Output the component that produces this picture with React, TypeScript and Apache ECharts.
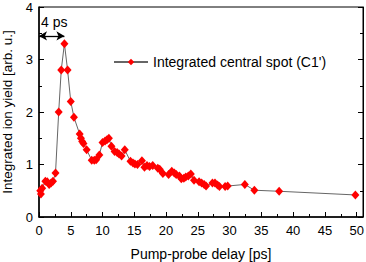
import React, { useEffect, useRef } from "react";
import * as echarts from "echarts";

const delays: number[] = [
  0.2, 0.3, 0.5, 1.0, 1.3, 1.6, 1.9, 2.2, 2.6, 3.1, 3.5, 4.0, 4.5, 5.0, 5.5,
  6.4, 6.6, 6.8, 7.0, 7.5, 8.3, 8.7, 9.0, 9.5, 10.0, 10.4, 10.7, 11.0, 11.4,
  11.9, 12.3, 12.6, 13.0, 13.5, 14.4, 14.8, 15.1, 15.5, 16.2, 16.6, 17.0,
  17.4, 17.9, 18.7, 19.0, 19.5, 20.4, 20.9, 21.3, 21.6, 22.1, 22.4, 22.8,
  23.1, 23.5, 23.9, 24.4, 25.2, 25.6, 26.0, 26.3, 27.3, 27.7, 28.1, 28.4,
  29.3, 29.7, 32.4, 33.9, 37.8, 49.8,
];
const yields: number[] = [
  0.5, 0.44, 0.55, 0.68, 0.67, 0.62, 0.65, 0.68, 0.84, 2.0, 2.8, 3.3, 2.8,
  2.2, 1.9, 1.58, 1.5, 1.44, 1.4, 1.28, 1.08, 1.08, 1.09, 1.18, 1.42, 1.45,
  1.47, 1.5, 1.35, 1.25, 1.23, 1.2, 1.16, 1.28, 1.06, 1.03, 1.01, 1.0, 1.07,
  0.95, 0.98, 0.96, 0.98, 0.93, 0.91, 0.83, 0.81, 0.87, 0.84, 0.81, 0.78,
  0.73, 0.74, 0.76, 0.78, 0.82, 0.7, 0.67, 0.65, 0.62, 0.59, 0.65, 0.65,
  0.61, 0.58, 0.58, 0.59, 0.62, 0.51, 0.49, 0.42,
];
const seriesName = "Integrated central spot (C1')";
const xTitle = "Pump-probe delay [ps]";
const yTitle = "Integrated ion yield [arb. u.]";
const annotationText = "4 ps";
const arrowStart: [number, number] = [0, 3.45];
const arrowEnd: [number, number] = [4, 3.45];

const FONT = "Liberation Sans, Arial, sans-serif";

export default function App() {
  const ref = useRef<HTMLDivElement>(null);
  useEffect(() => {
    if (!ref.current) return;
    const chart = echarts.init(ref.current, undefined, { renderer: "svg" });
    const data = delays.map((d, i) => [d, yields[i]]);
    const tickCommon = {
      axisTick: { show: true, inside: true, length: 5, lineStyle: { color: "#000", width: 1 } },
      minorTick: { show: true, splitNumber: 2, length: 3, lineStyle: { color: "#000", width: 1 } },
      splitLine: { show: false },
      minorSplitLine: { show: false },
    };
    chart.setOption({
      animation: false,
      backgroundColor: "#fff",
      textStyle: { fontFamily: FONT },
      grid: {
        left: 39,
        right: 3,
        top: 7,
        bottom: 45,
        containLabel: false,
        outerBoundsMode: "none",
        show: true,
        borderColor: "#000",
        borderWidth: 1,
      },
      legend: {
        left: 113,
        top: 55,
        padding: 0,
        itemWidth: 34,
        itemHeight: 8,
        itemGap: 4,
        data: [seriesName],
        textStyle: { fontSize: 14, color: "#000", fontFamily: FONT },
      },
      xAxis: [
        {
          type: "value",
          min: 0,
          max: 51,
          interval: 5,
          name: xTitle,
          nameLocation: "middle",
          nameGap: 30,
          nameTextStyle: { fontSize: 14, color: "#000", fontFamily: FONT },
          axisLine: { show: true, onZero: false, lineStyle: { color: "#000", width: 1.5 } },
          axisLabel: {
            color: "#000",
            fontSize: 13,
            fontFamily: FONT,
            margin: 7,
            formatter: (v: number) => (v % 5 === 0 ? String(v) : ""),
          },
          ...tickCommon,
        },
      ],
      yAxis: [
        {
          type: "value",
          min: 0,
          max: 4,
          interval: 1,
          name: yTitle,
          nameLocation: "middle",
          nameGap: 23,
          nameTextStyle: { fontSize: 13.5, color: "#000", fontFamily: FONT },
          axisLine: { show: true, onZero: false, lineStyle: { color: "#000", width: 1.5 } },
          axisLabel: { color: "#000", fontSize: 13, fontFamily: FONT, margin: 6 },
          ...tickCommon,
        },
        {
          type: "value",
          position: "right",
          min: 0,
          max: 4,
          interval: 1,
          axisLine: { show: true, onZero: false, lineStyle: { color: "#000", width: 1 } },
          axisLabel: { show: false },
          ...tickCommon,
        },
      ],
      graphic: [
        {
          type: "text",
          left: 41,
          top: 15,
          style: { text: annotationText, fontSize: 14, fill: "#000", fontFamily: FONT },
        },
      ],
      series: [
        {
          name: seriesName,
          type: "line",
          data,
          symbol: "diamond",
          symbolSize: [8, 9],
          showAllSymbol: true,
          itemStyle: { color: "#ff0000" },
          lineStyle: { color: "#666", width: 1 },
          z: 3,
          markLine: {
            silent: true,
            symbol: ["arrow", "arrow"],
            symbolSize: [7, 8],
            lineStyle: { color: "#000", width: 1.3, type: "solid" },
            label: { show: false },
            data: [[{ coord: arrowStart }, { coord: arrowEnd }]],
          },
        },
      ],
    });
    return () => chart.dispose();
  }, []);
  return <div ref={ref} style={{ width: 366, height: 262, position: "absolute", left: 0, top: 0 }} />;
}
